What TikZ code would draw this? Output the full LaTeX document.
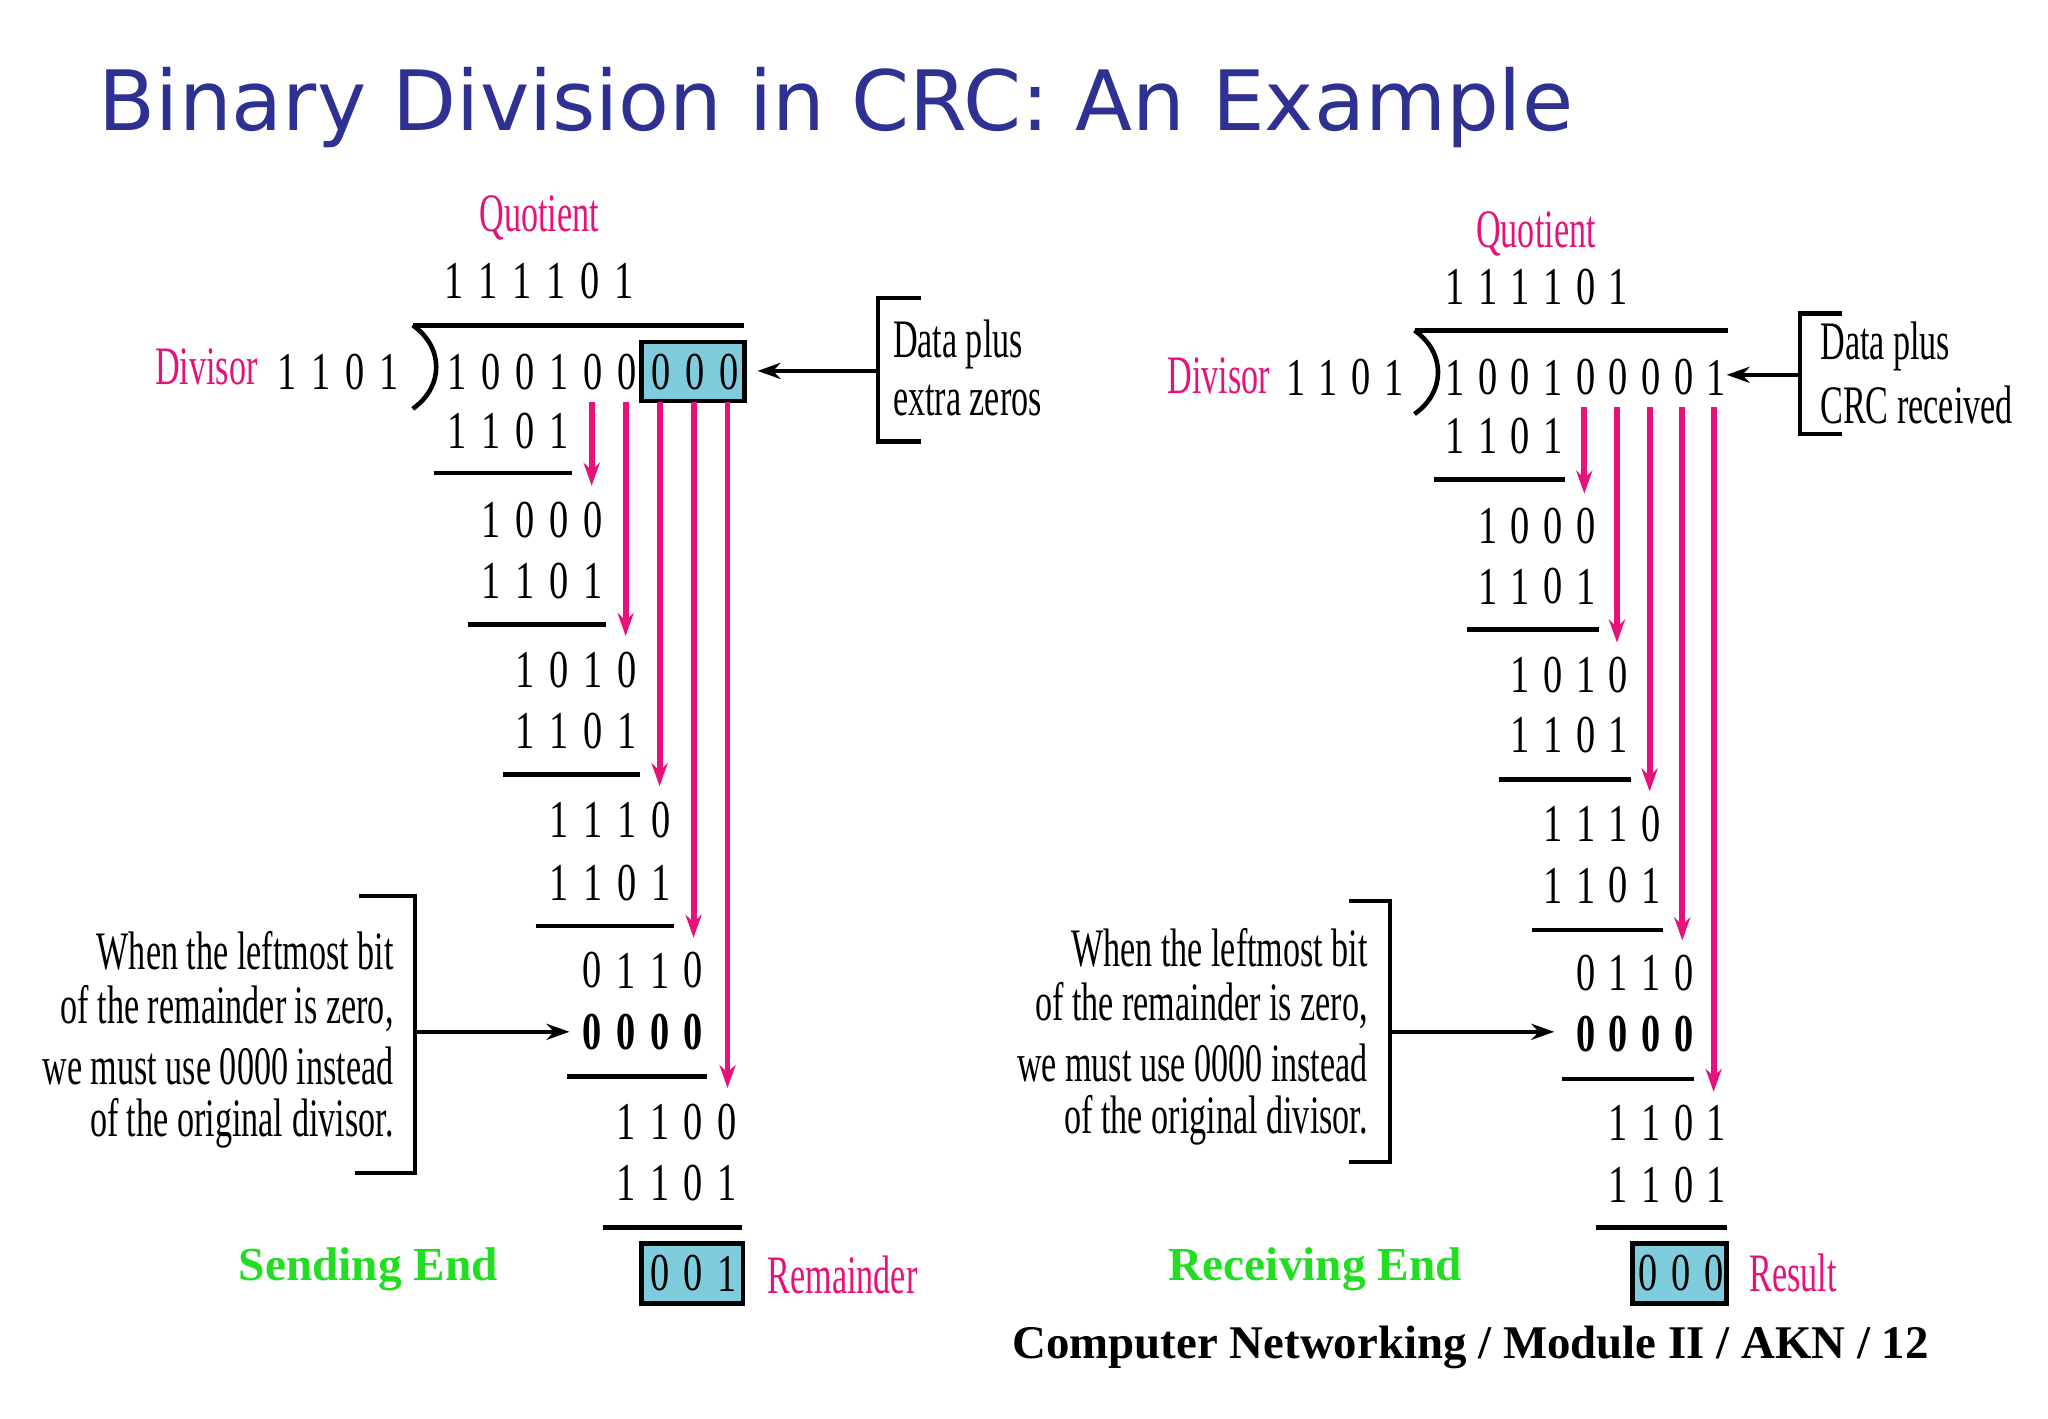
\documentclass[tikz,border=0pt]{standalone}
\usepackage{fontspec}
\usepackage{graphicx}
\setmainfont{Liberation Serif}
\newfontfamily\cond[FakeStretch=0.72]{Liberation Serif}
\newfontfamily\condn[FakeStretch=0.63]{Liberation Serif}
\newfontfamily\titlefont{DejaVu Sans}
\usetikzlibrary{arrows.meta}
\definecolor{pinkc}{HTML}{E6127A}
\definecolor{titlec}{HTML}{2E3192}
\definecolor{greenc}{HTML}{22DD22}
\definecolor{boxc}{HTML}{7FCCDD}
\tikzset{
 dig/.style={inner sep=0pt,font=\cond\fontsize{11.6}{13}\selectfont},
 bdig/.style={dig,font=\cond\bfseries\fontsize{11.6}{13}\selectfont},
 lbl/.style={inner sep=0pt,font=\condn\fontsize{11.8}{14}\selectfont},
 plbl/.style={lbl,text=pinkc},
 note/.style={inner sep=0pt,align=right,anchor=east,font=\condn\fontsize{11.8}{12.5}\selectfont},
 endl/.style={inner sep=0pt,text=greenc,font=\bfseries\fontsize{10.3}{13}\selectfont},
 parr/.style={pinkc,line width=1.3pt,-{Stealth[length=5pt,width=3.5pt]}},
 barr/.style={black,line width=0.9pt,-{Stealth[length=5pt,width=3.5pt]}},
 rl/.style={black,line width=0.9pt},
 hl/.style={black,line width=1pt},
}
\newcommand\digrow[6]{\foreach \d [count=\i from 0] in {#6} {\node[#5] (#1-\i) at ({#2+#3*\i},#4) {\d};}}
\begin{document}
\begin{tikzpicture}[x=0.01cm,y=-0.01cm]
\useasboundingbox (0,0) rectangle (1568,1086);
\node[inner sep=0pt,anchor=west,text=titlec] (title) at (75,82) {\resizebox{11.28cm}{!}{\titlefont Binary Division in CRC: An Example}};
%%% LEFT
\fill[boxc] (491,262) rectangle (570,307);
\draw[hl] (491,262) rectangle (570,307);
\fill[boxc] (491,952) rectangle (569,998);
\draw[hl] (491,952) rectangle (569,998);
\node[plbl] (lq) at (413,167) {Quotient};
\digrow{lqd}{348}{26}{215}{dig}{1,1,1,1,0,1}
\node[plbl] (ldv) at (158,281) {Divisor};
\digrow{ldd}{220}{26}{285}{dig}{1,1,0,1}
\digrow{ld}{350}{26}{285}{dig}{1,0,0,1,0,0,0,0,0}
\draw[hl] (316,249) -- (570,249);
\draw[hl] (316,249) .. controls (340,266) and (340,296) .. (316,313);
\digrow{la}{350}{26}{330}{dig}{1,1,0,1}
\draw[hl] (332,362) -- (438,362);
\digrow{lb}{376}{26}{398}{dig}{1,0,0,0}
\digrow{lc}{376}{26}{445}{dig}{1,1,0,1}
\draw[hl] (358,478) -- (464,478);
\digrow{le}{402}{26}{513}{dig}{1,0,1,0}
\digrow{lf}{402}{26}{560}{dig}{1,1,0,1}
\draw[hl] (385,593) -- (490,593);
\digrow{lg}{428}{26}{628}{dig}{1,1,1,0}
\digrow{lh}{428}{26}{676}{dig}{1,1,0,1}
\draw[hl] (410,709) -- (516,709);
\digrow{li}{453}{26}{743}{dig}{0,1,1,0}
\digrow{lj}{453}{26}{790}{bdig}{0,0,0,0}
\draw[hl] (434,824) -- (541,824);
\digrow{lk}{479}{26}{859}{dig}{1,1,0,0}
\digrow{ll}{479}{26}{906}{dig}{1,1,0,1}
\draw[hl] (462,940) -- (568,940);
\digrow{lm}{505}{26}{975}{dig}{0,0,1}
\coordinate (la4) at (453,372); \draw[parr] (453,308) -- (la4);
\coordinate (la5) at (479,487); \draw[parr] (479,308) -- (la5);
\coordinate (la6) at (505,602); \draw[parr] (505,308) -- (la6);
\coordinate (la7) at (531,718); \draw[parr] (531,308) -- (la7);
\coordinate (la8) at (557,833); \draw[parr] (557,308) -- (la8);
\draw[rl] (705,228) -- (672,228) -- (672,338) -- (705,338);
\node[lbl,anchor=west] (ldp1) at (683,264) {Data plus};
\node[lbl,anchor=west] (ldp2) at (683,307) {extra zeros};
\coordinate (lbr) at (672,284); \coordinate (lbt) at (580,284);
\draw[barr] (lbr) -- (lbt);
\draw[rl] (275,686) -- (318,686) -- (318,898) -- (272,898);
\node[note] (ln1) at (302,728) {When the leftmost bit};
\node[note] (ln2) at (302,772) {of the remainder is zero,};
\node[note] (ln3) at (302,816) {we must use 0000 instead};
\node[note] (ln4) at (302,860) {of the original divisor.};
\coordinate (lnb) at (318,790); \coordinate (lnt) at (436,790);
\draw[barr] (lnb) -- (lnt);
\node[endl] (lse) at (282,972) {Sending End};
\node[plbl] (lrem) at (645,976) {Remainder};
%%% RIGHT
\fill[boxc] (1250,952) rectangle (1322,998);
\draw[hl] (1250,952) rectangle (1322,998);
\node[plbl] (rq) at (1176,179) {Quotient};
\digrow{rqd}{1114}{25}{220}{dig}{1,1,1,1,0,1}
\node[plbl] (rdv) at (933,288) {Divisor};
\digrow{rdd}{992}{25}{289}{dig}{1,1,0,1}
\digrow{rd}{1114}{25}{289}{dig}{1,0,0,1,0,0,0,0,1}
\draw[hl] (1083,253) -- (1323,253);
\draw[hl] (1083,253) .. controls (1107,270) and (1107,300) .. (1083,317);
\digrow{ra}{1114}{25}{334}{dig}{1,1,0,1}
\draw[hl] (1098,367) -- (1198,367);
\digrow{rb}{1139}{25}{403}{dig}{1,0,0,0}
\digrow{rc}{1139}{25}{449}{dig}{1,1,0,1}
\draw[hl] (1123,482) -- (1224,482);
\digrow{re}{1164}{25}{517}{dig}{1,0,1,0}
\digrow{rf}{1164}{25}{563}{dig}{1,1,0,1}
\draw[hl] (1148,597) -- (1249,597);
\digrow{rg}{1189}{25}{631}{dig}{1,1,1,0}
\digrow{rh}{1189}{25}{678}{dig}{1,1,0,1}
\draw[hl] (1173,712) -- (1273,712);
\digrow{ri}{1214}{25}{745}{dig}{0,1,1,0}
\digrow{rj}{1214}{25}{792}{bdig}{0,0,0,0}
\draw[hl] (1196,826) -- (1297,826);
\digrow{rk}{1239}{25}{860}{dig}{1,1,0,1}
\digrow{rl}{1239}{25}{907}{dig}{1,1,0,1}
\draw[hl] (1222,940) -- (1322,940);
\digrow{rm}{1262}{25}{975}{dig}{0,0,0}
\coordinate (ra4) at (1213,378); \draw[parr] (1213,312) -- (ra4);
\coordinate (ra5) at (1238,492); \draw[parr] (1238,312) -- (ra5);
\coordinate (ra6) at (1263,606); \draw[parr] (1263,312) -- (ra6);
\coordinate (ra7) at (1288,720); \draw[parr] (1288,312) -- (ra7);
\coordinate (ra8) at (1312,836); \draw[parr] (1312,312) -- (ra8);
\draw[rl] (1410,240) -- (1378,240) -- (1378,332) -- (1410,332);
\node[lbl,anchor=west] (rdp1) at (1393,265) {Data plus};
\node[lbl,anchor=west] (rdp2) at (1393,310) {CRC received};
\coordinate (rbr) at (1378,287); \coordinate (rbt) at (1322,287);
\draw[barr] (rbr) -- (rbt);
\draw[rl] (1033,690) -- (1064,690) -- (1064,890) -- (1033,890);
\node[note] (rn1) at (1048,726) {When the leftmost bit};
\node[note] (rn2) at (1048,770) {of the remainder is zero,};
\node[note] (rn3) at (1048,814) {we must use 0000 instead};
\node[note] (rn4) at (1048,858) {of the original divisor.};
\coordinate (rnb) at (1064,790); \coordinate (rnt) at (1190,790);
\draw[barr] (rnb) -- (rnt);
\node[endl] (rre) at (1007,972) {Receiving End};
\node[plbl] (rres) at (1373,975) {Result};
\node[inner sep=0pt,font=\bfseries\fontsize{10.2}{12}\selectfont] (foot) at (1126,1032) {Computer Networking / Module II / AKN / 12};
\end{tikzpicture}
\end{document}
